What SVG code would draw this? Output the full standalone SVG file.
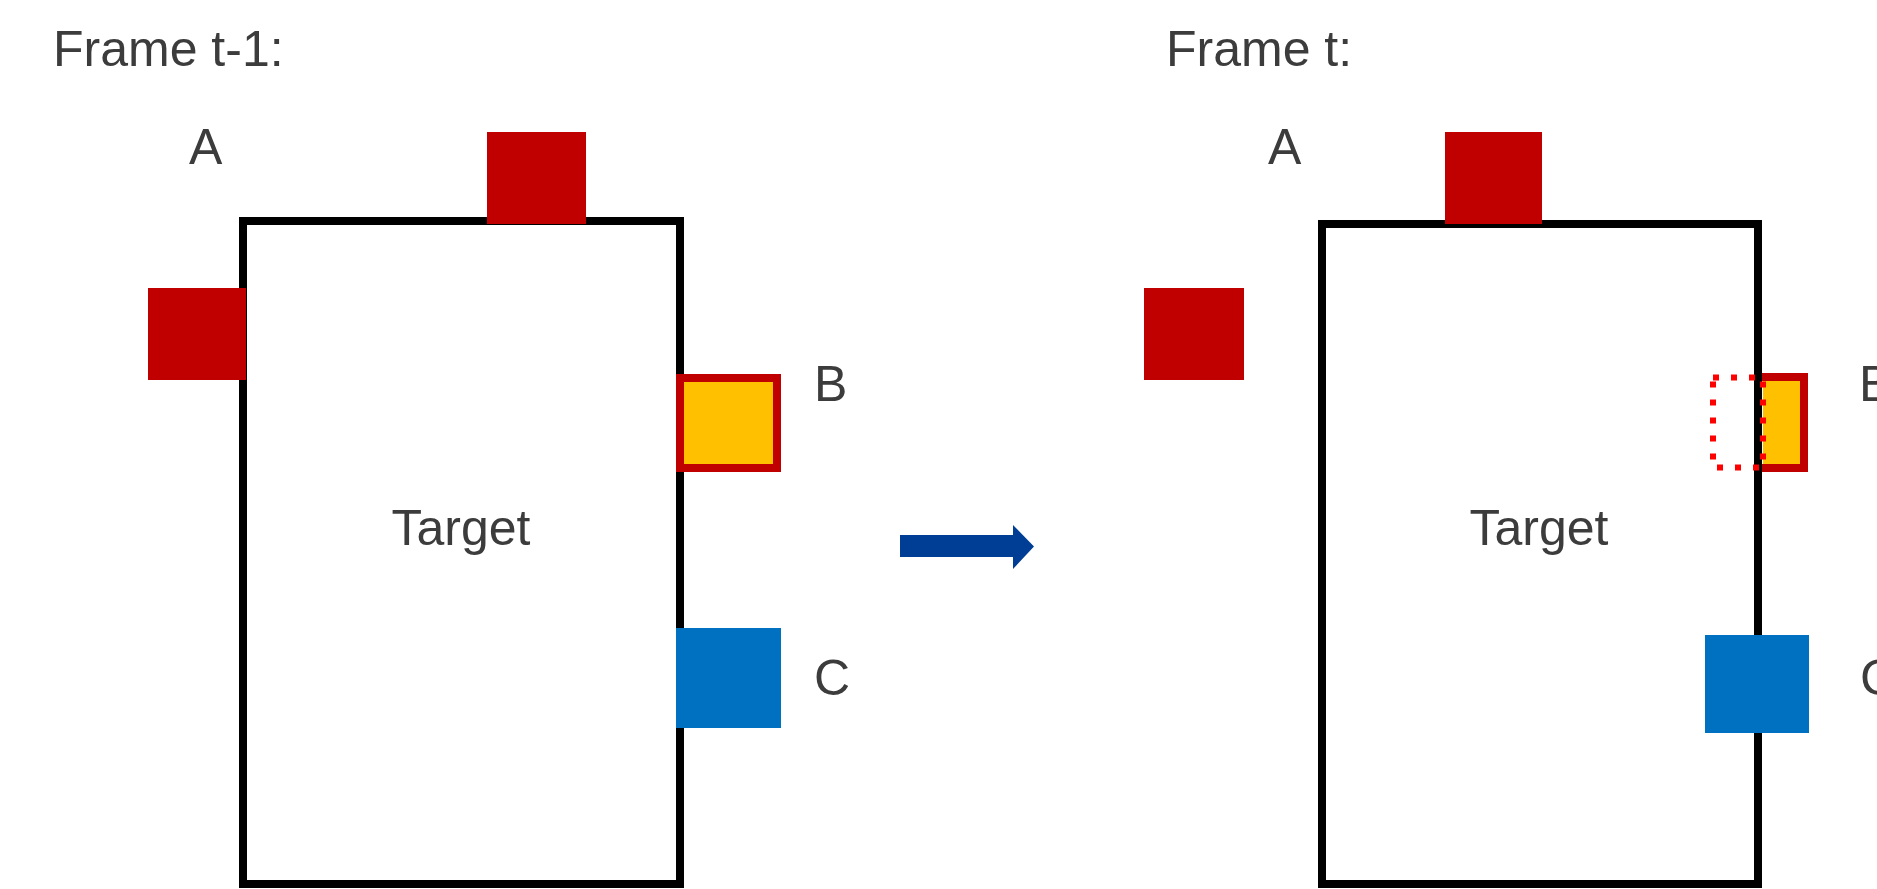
<svg xmlns="http://www.w3.org/2000/svg" width="1877" height="889" viewBox="0 0 1877 889">
<style>
.lbl{font-family:"Liberation Sans","Noto Sans",Arial,sans-serif;font-size:50px;fill:#3c3c3c}
.target{fill:#ffffff;stroke:#000000;stroke-width:8}
.red{fill:#C00000}
.blue{fill:#0070C0}
.yel{fill:#FFC000}
.redline{fill:none;stroke:#C00000;stroke-width:8}
.dotted{fill:none;stroke:#FF0000;stroke-width:6;stroke-dasharray:6 12}
</style>
<rect width="1877" height="889" fill="#ffffff"/>

<g id="frame1">
  <text class="lbl" x="53" y="66">Frame t-1:</text>
  <g id="target1">
    <rect class="target" x="243" y="221" width="437" height="663"/>
    <text class="lbl" x="461" y="545" text-anchor="middle">Target</text>
  </g>
  <g id="A1">
    <rect class="red" x="487" y="132" width="99" height="92"/>
    <rect class="red" x="148" y="288" width="98" height="92"/>
    <text class="lbl" x="189" y="164">A</text>
  </g>
  <g id="B1">
    <rect class="yel" x="680" y="378" width="97" height="90"/>
    <rect class="redline" x="680" y="378" width="97" height="90"/>
    <text class="lbl" x="814" y="401">B</text>
  </g>
  <g id="C1">
    <rect class="blue" x="676" y="628" width="105" height="100"/>
    <text class="lbl" x="814" y="695">C</text>
  </g>
</g>

<g id="connectors">
  <polygon fill="#003E96" points="900,535 1013,535 1013,525 1034,546.5 1013,569 1013,557 900,557"/>
</g>

<g id="frame2">
  <text class="lbl" x="1166" y="66">Frame t:</text>
  <g id="target2">
    <rect class="target" x="1322" y="224" width="436" height="660"/>
    <text class="lbl" x="1539" y="545" text-anchor="middle">Target</text>
  </g>
  <g id="A2">
    <rect class="red" x="1445" y="132" width="97" height="92"/>
    <rect class="red" x="1144" y="288" width="100" height="92"/>
    <text class="lbl" x="1268" y="164">A</text>
  </g>
  <g id="B2">
    <rect class="yel" x="1763" y="381" width="37" height="83"/>
    <path class="redline" d="M1762,377 H1804 V468 H1762"/>
    <rect class="dotted" x="1713" y="377.5" width="50" height="90"/>
    <text class="lbl" x="1859" y="401">B</text>
  </g>
  <g id="C2">
    <rect class="blue" x="1705" y="635" width="104" height="98"/>
    <text class="lbl" x="1860" y="695">C</text>
  </g>
</g>
</svg>
